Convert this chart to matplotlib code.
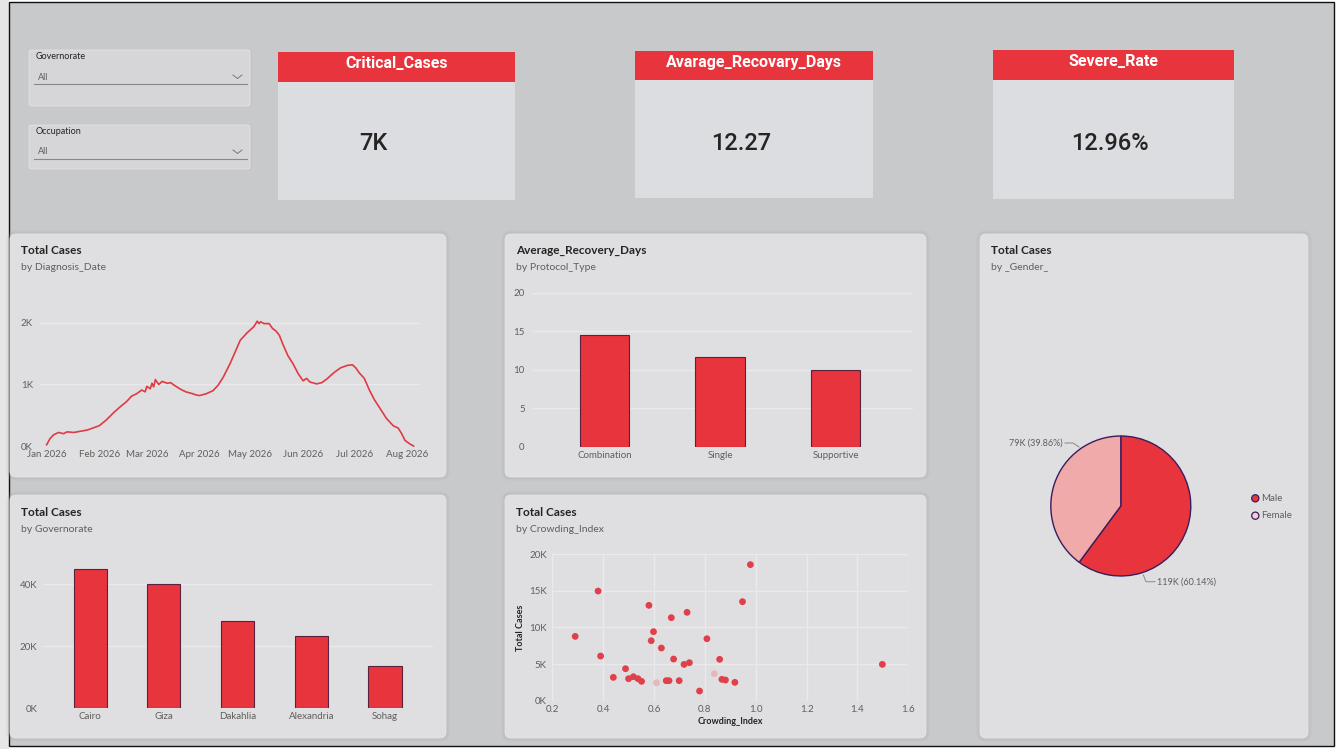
import matplotlib
matplotlib.use("Agg")
import matplotlib.pyplot as plt
from matplotlib.patches import FancyBboxPatch, Rectangle, Circle
import matplotlib.dates as mdates
import pandas as pd

W, H = 1336, 749
plt.rcParams['font.family'] = ['Lato', 'DejaVu Sans']

# ---------------- data ----------------
kpi_titles = ["Critical_Cases", "Avarage_Recovary_Days", "Severe_Rate"]
kpi_values = ["7K", "12.27", "12.96%"]

slicer_fields = ["Governorate", "Occupation"]
slicer_values = ["All", "All"]

diagnosis_dates = [
    "2026-01-01", "2026-01-03", "2026-01-05", "2026-01-08", "2026-01-11", "2026-01-13",
    "2026-01-17", "2026-01-21", "2026-01-25", "2026-01-28", "2026-02-01", "2026-02-05",
    "2026-02-09", "2026-02-13", "2026-02-17", "2026-02-20", "2026-02-23", "2026-02-26",
    "2026-02-28", "2026-03-01", "2026-03-03", "2026-03-04", "2026-03-05", "2026-03-06",
    "2026-03-08", "2026-03-10", "2026-03-13", "2026-03-15", "2026-03-17", "2026-03-21",
    "2026-03-24", "2026-03-28", "2026-03-30", "2026-04-01", "2026-04-05", "2026-04-09",
    "2026-04-12", "2026-04-15", "2026-04-19", "2026-04-22", "2026-04-25", "2026-04-29",
    "2026-05-03", "2026-05-05", "2026-05-06", "2026-05-07", "2026-05-09", "2026-05-12",
    "2026-05-14", "2026-05-16", "2026-05-18", "2026-05-20", "2026-05-23", "2026-05-26",
    "2026-05-29", "2026-06-01", "2026-06-03", "2026-06-05", "2026-06-09", "2026-06-12",
    "2026-06-15", "2026-06-19", "2026-06-23", "2026-06-27", "2026-06-30", "2026-07-02",
    "2026-07-04", "2026-07-07", "2026-07-10", "2026-07-13", "2026-07-17", "2026-07-20",
    "2026-07-24", "2026-07-27", "2026-07-29", "2026-07-31", "2026-08-03", "2026-08-05",
]
daily_cases_k = [
    0.02, 0.12, 0.18, 0.22, 0.20, 0.23,
    0.22, 0.24, 0.26, 0.29, 0.33, 0.42,
    0.53, 0.63, 0.72, 0.81, 0.85, 0.91,
    0.88, 0.97, 0.93, 1.02, 0.96, 1.08,
    1.00, 1.05, 1.02, 1.03, 0.99, 0.92,
    0.88, 0.85, 0.83, 0.82, 0.85, 0.90,
    0.99, 1.12, 1.34, 1.53, 1.72, 1.84,
    1.94, 2.03, 1.99, 2.02, 1.99, 1.99,
    1.91, 1.87, 1.80, 1.66, 1.47, 1.34,
    1.18, 1.06, 1.10, 1.04, 1.01, 1.03,
    1.09, 1.19, 1.27, 1.31, 1.32, 1.27,
    1.19, 1.10, 0.91, 0.75, 0.58, 0.45,
    0.33, 0.29, 0.20, 0.09, 0.03, 0.00,
]

protocol_types = ["Combination", "Single", "Supportive"]
avg_recovery_days = [14.55, 11.6, 9.96]

governorates = ["Cairo", "Giza", "Dakahlia", "Alexandria", "Sohag"]
governorate_cases_k = [45.0, 40.0, 28.2, 23.3, 13.5]

crowding_index = [0.290, 0.380, 0.390, 0.440, 0.488, 0.500, 0.519, 0.537, 0.551, 0.580,
                  0.589, 0.598, 0.610, 0.629, 0.648, 0.659, 0.668, 0.677, 0.699, 0.718,
                  0.730, 0.739, 0.779, 0.808, 0.837, 0.858, 0.867, 0.881, 0.918, 0.948,
                  0.979, 1.498]
crowding_cases_k = [8.77, 14.95, 6.09, 3.18, 4.36, 3.00, 3.27, 3.00, 2.64, 13.0,
                    8.18, 9.41, 2.45, 7.18, 2.73, 2.73, 11.32, 5.68, 2.73, 4.95,
                    12.05, 5.18, 1.32, 8.45, 3.68, 5.64, 2.91, 2.82, 2.50, 13.5,
                    18.55, 4.95]

genders = ["Male", "Female"]
gender_cases_k = [119, 79]
gender_pct = [60.14, 39.86]

# ---------------- styles ----------------
BG = '#C8C9CB'
PANEL = '#DFDFE2'
RED = '#E8343D'
PINK = '#F0AAAA'
EDGE = '#5B2140'
GRID = '#EAEAED'
TXT = '#252423'
SUB = '#605E5C'

fig = plt.figure(figsize=(W / 100, H / 100), dpi=100, facecolor='white')
bg = fig.add_axes([0, 0, 1, 1])
bg.set_xlim(0, W)
bg.set_ylim(H, 0)
bg.axis('off')


def px_axes(x0, y0, x1, y1):
    a = fig.add_axes([x0 / W, 1 - y1 / H, (x1 - x0) / W, (y1 - y0) / H])
    a.set_facecolor('none')
    for s in a.spines.values():
        s.set_visible(False)
    return a


# canvas
bg.add_patch(Rectangle((0, 0), 9, H, facecolor='#E6E6E6', edgecolor='none'))
bg.add_patch(Rectangle((9, 2), 1325, 744, facecolor=BG, edgecolor='#111111', lw=1.0))


def panel(x0, y0, x1, y1, fc=PANEL, r=6, shadow=True):
    if shadow:
        for i, a in [(4, 0.10), (2.5, 0.14), (1.2, 0.2)]:
            bg.add_patch(FancyBboxPatch((x0 - i, y0 - i), x1 - x0 + 2 * i, y1 - y0 + 2 * i,
                                        boxstyle=f"round,pad=0,rounding_size={r + i}",
                                        facecolor='#A9AAAD', edgecolor='none', alpha=a))
    bg.add_patch(FancyBboxPatch((x0, y0), x1 - x0, y1 - y0,
                                boxstyle=f"round,pad=0,rounding_size={r}",
                                facecolor=fc, edgecolor='#E6E6E8', lw=0.6))


# slicers
for (y0, y1), field, val in zip([(50, 106), (125, 169)], slicer_fields, slicer_values):
    bg.add_patch(FancyBboxPatch((28, y0 - 1), 224, y1 - y0 + 2,
                                boxstyle="round,pad=0,rounding_size=3",
                                facecolor='#BEBFC2', edgecolor='none', alpha=0.5))
    panel(29, y0, 250, y1, fc='#D6D6D9', r=2, shadow=False)
    bg.text(36, y0 + 6.5, field, fontsize=6.5, color=TXT, va='center', ha='left')
    bg.text(38, y0 + 27, val, fontsize=6.5, color=SUB, va='center', ha='left')
    bg.plot([34, 247], [y0 + 34, y0 + 34], color='#8A8886', lw=0.8)
    bg.plot([233, 237.5, 242], [y0 + 25, y0 + 28.5, y0 + 25], color='#7A7876', lw=0.7)

# KPI cards
cards = [(278, 515, 52, 82, 200, 373), (635, 873, 51, 80, 198, 741), (993, 1234, 50, 80, 199, 1110)]
for (x0, x1, yt, yh, yb, vx), title, val in zip(cards, kpi_titles, kpi_values):
    bg.add_patch(Rectangle((x0, yt), x1 - x0, yb - yt, facecolor='#DCDDE0', edgecolor='none'))
    bg.add_patch(Rectangle((x0, yt), x1 - x0, yh - yt, facecolor=RED, edgecolor='none'))
    bg.text((x0 + x1) / 2, (yt + yh) / 2 - 3, title, fontsize=11.5, fontweight='bold',
            color='white', ha='center', va='center', family=['Roboto', 'DejaVu Sans'])
    bg.text(vx, 144, val, fontsize=17, color=TXT, ha='center', va='center',
            family=['Roboto', 'DejaVu Sans'], fontweight='medium')

# chart panels
panel(10, 234, 446, 477)
panel(505, 234, 926, 477)
panel(10, 495, 446, 738)
panel(505, 495, 926, 738)
panel(980, 234, 1308, 738)

titles = [(21, 250, "Total Cases", "by Diagnosis_Date"),
          (516, 250, "Average_Recovery_Days", "by Protocol_Type"),
          (21, 512, "Total Cases", "by Governorate"),
          (516, 512, "Total Cases", "by Crowding_Index"),
          (991, 250, "Total Cases", "by _Gender_")]
for x, y, t, s in titles:
    bg.text(x, y, t, fontsize=8.5, fontweight='bold', color=TXT, ha='left', va='center')
    bg.text(x, y + 17, s, fontsize=7.5, color=SUB, ha='left', va='center')


def style_ticks(a, ypad=4, xpad=3):
    a.tick_params(axis='both', length=0, labelsize=7, labelcolor=SUB)
    a.tick_params(axis='y', pad=ypad)
    a.tick_params(axis='x', pad=xpad)
    a.set_axisbelow(True)


# ---- line chart ----
ax1 = px_axes(40, 295, 420, 446)
dates = pd.to_datetime(diagnosis_dates)
base = mdates.date2num(pd.Timestamp("2026-01-01"))
ax1.plot(dates, daily_cases_k, color='#E03A43', lw=1.2, clip_on=False, zorder=3)
ax1.set_xlim(base - 3.9, base + 219.8)
ax1.set_ylim(0, 2.455)
ax1.set_yticks([0, 1, 2])
ax1.set_yticklabels(["0K", "1K", "2K"])
month_ticks = pd.date_range("2026-01-01", "2026-08-01", freq="MS")
ax1.set_xticks(month_ticks)
ax1.set_xticklabels([d.strftime("%b %Y") for d in month_ticks])
ax1.yaxis.grid(True, color=GRID, lw=1)
style_ticks(ax1, ypad=5, xpad=3)

# ---- protocol bars ----
ax2 = px_axes(533, 292.7, 913, 446.7)
ax2.bar(range(len(protocol_types)), avg_recovery_days, width=0.43, color=RED,
        edgecolor=EDGE, lw=0.8, zorder=3)
ax2.set_xlim(-0.62, 2.67)
ax2.set_ylim(0, 20)
ax2.set_yticks([0, 5, 10, 15, 20])
ax2.set_xticks(range(len(protocol_types)))
ax2.set_xticklabels(protocol_types)
ax2.yaxis.grid(True, color=GRID, lw=1)
style_ticks(ax2, ypad=6, xpad=3)

# ---- governorate bars ----
ax3 = px_axes(43, 553.3, 433, 708.3)
ax3.bar(range(len(governorates)), governorate_cases_k, width=0.45, color=RED,
        edgecolor=EDGE, lw=0.8, zorder=3)
ax3.set_xlim(-0.64, 4.65)
ax3.set_ylim(0, 50)
ax3.set_yticks([0, 20, 40])
ax3.set_yticklabels(["0K", "20K", "40K"])
ax3.set_xticks(range(len(governorates)))
ax3.set_xticklabels(governorates)
ax3.yaxis.grid(True, color=GRID, lw=1)
style_ticks(ax3, ypad=4, xpad=3)

# ---- scatter ----
ax4 = px_axes(552.3, 554, 908.3, 700.7)
faded = {12, 24}
cols = ['#E6B8BC' if i in faded else '#E0404A' for i in range(len(crowding_index))]
ax4.scatter(crowding_index, crowding_cases_k, s=24, c=cols, edgecolors='none', zorder=3,
            clip_on=False)
ax4.set_xlim(0.2, 1.6)
ax4.set_ylim(0, 20)
xt = [0.2, 0.4, 0.6, 0.8, 1.0, 1.2, 1.4, 1.6]
ax4.set_xticks(xt)
ax4.set_xticklabels([f"{v:.1f}" for v in xt])
ax4.set_yticks([0, 5, 10, 15, 20])
ax4.set_yticklabels(["0K", "5K", "10K", "15K", "20K"])
ax4.grid(True, color=GRID, lw=1)
style_ticks(ax4, ypad=4, xpad=3)
ax4.set_xlabel("Crowding_Index", fontsize=6.5, fontweight='bold', color=TXT, labelpad=2)
ax4.set_ylabel("Total Cases", fontsize=6.5, fontweight='bold', color=TXT, labelpad=3)

# ---- pie ----
R = 70.0
cx, cy = 1120.8, 506
ax5 = px_axes(cx - 100, cy - 100, cx + 100, cy + 100)
ax5.pie(gender_pct, colors=[RED, PINK], startangle=90, counterclock=False, radius=1,
        wedgeprops=dict(edgecolor='#3A1C5C', linewidth=1))
ax5.set_xlim(-100 / R, 100 / R)
ax5.set_ylim(-100 / R, 100 / R)
ax5.set_aspect('equal')


def d(px, py):
    return ((px - cx) / R, -(py - cy) / R)


male_lbl = f"{gender_cases_k[0]}K ({gender_pct[0]:.2f}%)"
fem_lbl = f"{gender_cases_k[1]}K ({gender_pct[1]:.2f}%)"
pts = [d(1079, 447), d(1073, 443), d(1065, 443)]
ax5.plot([p[0] for p in pts], [p[1] for p in pts], color='#8A8886', lw=0.7, clip_on=False)
ax5.text(*d(1063, 443), fem_lbl, fontsize=6.5, color=SUB, ha='right', va='center')
pts = [d(1143.3, 575), d(1146, 581.7), d(1155, 581.7)]
ax5.plot([p[0] for p in pts], [p[1] for p in pts], color='#8A8886', lw=0.7, clip_on=False)
ax5.text(*d(1157, 581.7), male_lbl, fontsize=6.5, color=SUB, ha='left', va='center')

# pie legend
for (ly, fc), g in zip([(498.3, RED), (515.7, '#F3D0D0')], genders):
    bg.add_patch(Circle((1255.3, ly), 3.6, facecolor=fc, edgecolor='#3A1C5C', lw=0.9, zorder=5))
    bg.text(1261, ly, g, fontsize=7, color=SUB, ha='left', va='center', zorder=5)

fig.savefig("out.png", dpi=100, facecolor=fig.get_facecolor())
